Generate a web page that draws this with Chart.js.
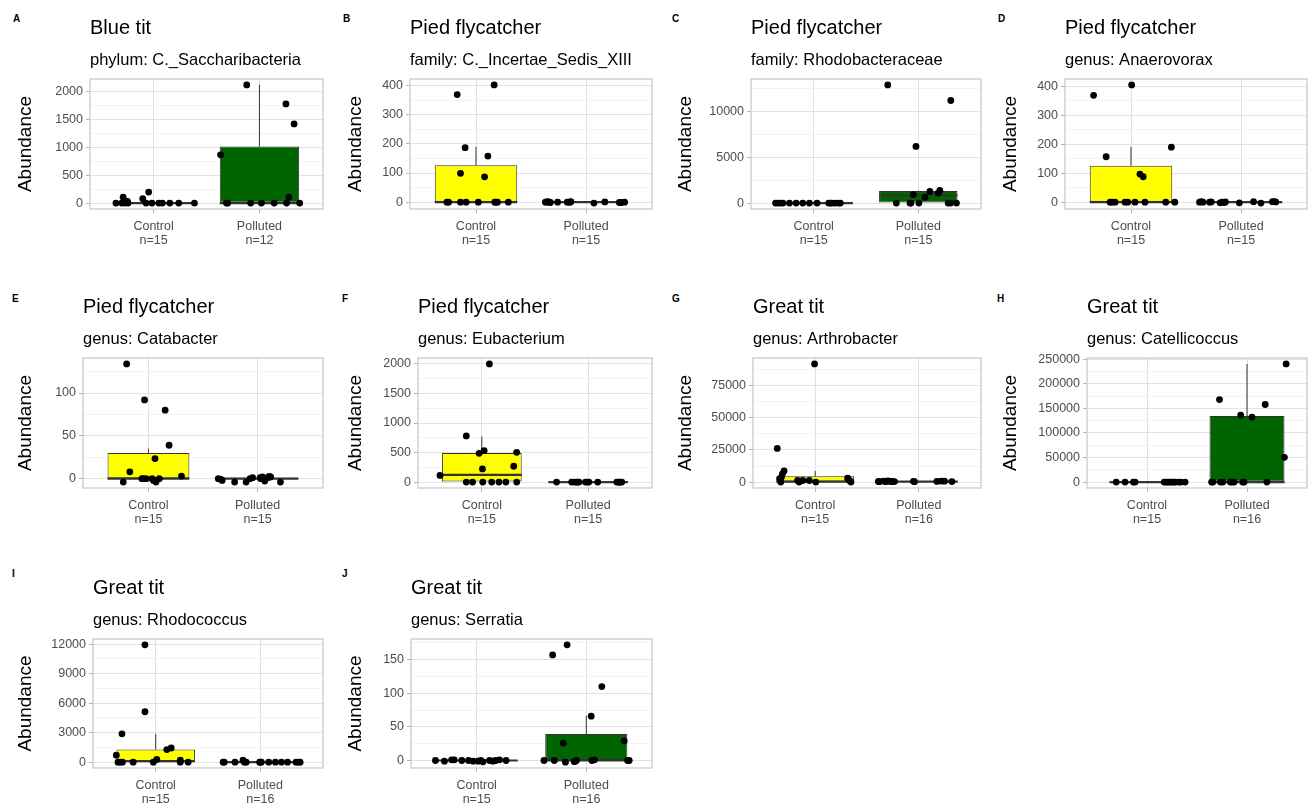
<!DOCTYPE html>
<html><head><meta charset="utf-8">
<script src="https://cdn.jsdelivr.net/npm/chart.js@4.4.1/dist/chart.umd.min.js"></script>
<style>
html,body{margin:0;padding:0;background:#fff;}
body{width:1312px;height:809px;position:relative;overflow:hidden;font-family:"Liberation Sans",Arial,sans-serif;}
canvas.cv{position:absolute;}
.tag{position:absolute;font:bold 10px "Liberation Sans",Arial,sans-serif;color:#000;}
</style></head><body>
<script>
// ---------------- DATA ----------------
const groups = ['Control', 'Polluted'];
const panelTags = ['A','B','C','D','E','F','G','H','I','J'];
const birdTitles = ['Blue tit','Pied flycatcher','Pied flycatcher','Pied flycatcher','Pied flycatcher','Pied flycatcher','Great tit','Great tit','Great tit','Great tit'];
const taxonSubtitles = ['phylum: C._Saccharibacteria','family: C._Incertae_Sedis_XIII','family: Rhodobacteraceae','genus: Anaerovorax','genus: Catabacter','genus: Eubacterium','genus: Arthrobacter','genus: Catellicoccus','genus: Rhodococcus','genus: Serratia'];
const sampleSizes = [[15,12],[15,15],[15,15],[15,15],[15,15],[15,15],[15,16],[15,16],[15,16],[15,16]];
const yMajorSteps = [500,100,5000,100,50,500,25000,50000,3000,50];

// box stats per group: [lowerWhisker, q1, median, q3, upperWhisker]
const boxA = [[0,0,0,0,0],[0,0,0,1015,2120]];
const boxB = [[0,0,0,127,190],[0,0,0,0,0]];
const boxC = [[0,0,0,0,0],[0,0,840,1309,1385]];
const boxD = [[0,0,0,126,191],[0,0,0,0,0]];
const boxE = [[0,0,0,30,35],[0,0,0,1,2]];
const boxF = [[0,0,123,492,771],[0,0,0,0,0]];
const boxG = [[0,0,300,4600,8700],[0,0,300,500,900]];
const boxH = [[0,0,0,0,0],[0,0,0,134400,240600]];
const boxI = [[0,0,100,1274,2883],[0,0,0,0,0]];
const boxJ = [[0,0,0,0,0],[0,0,0,39.5,66.7]];

// observed abundances and their horizontal jitter (in category units)
const ctrlA = [0,107,0,30,0,78,0,197,0,0,0,0,0,0,0];
const ctrlA_jit = [-0.355,-0.287,-0.269,-0.247,-0.241,-0.102,-0.071,-0.046,-0.015,0.083,0.154,0.238,0.386,-0.30,0.05];
const polA = [866,0,0,2120,0,0,0,1779,0,107,1421,0];
const polA_jit = [-0.367,-0.312,-0.30,-0.12,-0.083,0.019,0.139,0.25,0.256,0.278,0.327,0.38];

const ctrlB = [0,369,99,0,187,0,0,87,158,402,0,0,0,0,0];
const ctrlB_jit = [-0.264,-0.171,-0.141,-0.141,-0.099,-0.09,0.021,0.078,0.108,0.165,0.171,0.195,0.294,-0.25,0.18];
const polB = [0,1,0,-1,0,0,0,2,-3,1,-1,-1,0,2,0];
const polB_jit = [-0.369,-0.357,-0.339,-0.324,-0.258,-0.171,-0.153,-0.138,0.072,0.171,0.303,0.321,0.351,-0.345,-0.144];

const ctrlC = [0,0,0,0,0,0,0,0,0,0,0,0,0,0,0];
const ctrlC_jit = [-0.365,-0.34,-0.317,-0.295,-0.232,-0.168,-0.105,-0.041,0.032,0.143,0.159,0.175,0.206,0.238,0.254];
const polC = [12900,0,0,916,6180,0,650,1270,1090,1385,0,11200,0,0,0];
const polC_jit = [-0.292,-0.21,-0.079,-0.048,-0.022,0.006,0.063,0.111,0.19,0.206,0.286,0.311,0.31,0.365,-0.07];

const ctrlD = [369,157,0,0,0,0,0,0,97,88,0,405,0,190,0];
const ctrlD_jit = [-0.34,-0.226,-0.19,-0.172,-0.145,-0.054,-0.03,0.036,0.081,0.111,0.127,0.006,0.316,0.367,0.398];
const polD = [0,2,0,0,1,-2,0,-1,1,-2,2,-3,2,2,1];
const polD_jit = [-0.377,-0.361,-0.346,-0.286,-0.271,-0.19,-0.172,-0.151,-0.142,-0.015,0.114,0.181,0.286,0.301,0.316];

const ctrlE = [-4,8,134,0,92,0,0,23.5,-4,0,80,39,3,0,-2];
const ctrlE_jit = [-0.231,-0.171,-0.2,-0.06,-0.036,-0.021,0.033,0.06,0.069,0.099,0.153,0.189,0.303,-0.045,0.045];
const polE = [0,-1,-2,-4,-4,0,1.2,1.2,0,2,-2.7,1.2,2.7,2,-4];
const polE_jit = [-0.36,-0.336,-0.324,-0.21,-0.105,-0.069,-0.045,0.024,0.03,0.045,0.066,0.096,0.105,0.12,0.21];

const ctrlF = [112,782,0,0,486,223,531,2000,0,0,0,0,268,503,0];
const ctrlF_jit = [-0.393,-0.146,-0.146,-0.087,-0.025,0.006,0.022,0.071,0.009,0.093,0.161,0.226,0.3,0.328,0.328];
const polF = [0,0,0,0,0,0,0,0,0,0,0,0,0,0,0];
const polF_jit = [-0.297,-0.155,-0.127,-0.108,-0.102,-0.087,-0.025,-0.009,0.006,0.09,0.269,0.285,0.294,0.3,0.316];

const ctrlG = [26200,0,2570,3850,6420,8700,1230,0,1230,1230,0,92000,3080,1230,0];
const ctrlG_jit = [-0.366,-0.332,-0.342,-0.326,-0.316,-0.3,-0.17,-0.155,-0.12,-0.057,0.006,-0.006,0.313,0.33,0.345];
const polG = [500,300,800,400,600,900,700,300,500,400,600,300,500,800,700,400];
const polG_jit = [-0.39,-0.381,-0.342,-0.323,-0.31,-0.3,-0.284,-0.261,-0.252,-0.235,-0.052,-0.042,0.174,0.216,0.248,0.319];

const ctrlH = [0,0,0,0,0,0,0,0,0,0,0,0,0,0,0];
const ctrlH_jit = [-0.308,-0.219,-0.136,-0.119,0.172,0.189,0.205,0.222,0.238,0.255,0.272,0.288,0.321,0.338,0.381];
const polH = [0,168000,0,0,0,0,136400,0,132400,158000,0,50400,240600,0,0,0];
const polH_jit = [-0.354,-0.275,-0.265,-0.242,-0.149,-0.129,-0.063,-0.03,0.05,0.182,0.199,0.374,0.391,-0.341,-0.166,-0.043];

const ctrlI = [704,0,0,2883,0,0,11934,5129,0,268,1274,1441,201,0,0];
const ctrlI_jit = [-0.377,-0.361,-0.342,-0.323,-0.319,-0.216,-0.103,-0.103,-0.023,0.01,0.106,0.148,0.235,0.235,0.31];
const polI = [0,0,0,200,0,0,0,0,0,0,0,0,0,0,0,0];
const polI_jit = [-0.355,-0.345,-0.242,-0.165,-0.152,-0.135,-0.006,0.003,0.01,0.081,0.145,0.203,0.261,0.342,0.365,0.381];

const ctrlJ = [0,-1,1,1,0,0,-1,-1,0,-2,0,-1,0,1,0];
const ctrlJ_jit = [-0.377,-0.295,-0.229,-0.205,-0.136,-0.075,-0.033,0.012,0.036,0.057,0.117,0.148,0.172,0.208,0.268];
const polJ = [0,157,0,26,-2.4,172,-1.5,0,66,0,1,110,29,0,0,-1];
const polJ_jit = [-0.386,-0.307,-0.292,-0.21,-0.19,-0.175,-0.111,-0.09,0.045,0.051,0.075,0.142,0.346,0.377,0.392,-0.1];

// ---------------- LAYOUT ----------------
const plotRects = [ // [left, top, right, bottom] of each plot panel
  [90,79,325,209],[410,79,654,209],[751,79,983,209],[1065,79,1309,209],
  [83,358,325,488],[418,358,654,488],[753,358,983,488],[1087,358,1309,488],
  [93,639,325,768],[411,639,654,768]
];
const colX = [0,330,660,985,0,330,660,985,0,330];
const tagPos = [[13,13],[343,13],[672,13],[998,13],[12,293],[342,293],[672,293],[997,293],[12,568],[342,568]];

const FONT = '"Liberation Sans", Arial, sans-serif';
const fills = ['#FFFF00', '#006400'];

const boxes = [boxA,boxB,boxC,boxD,boxE,boxF,boxG,boxH,boxI,boxJ];
const ctrlVals = [ctrlA,ctrlB,ctrlC,ctrlD,ctrlE,ctrlF,ctrlG,ctrlH,ctrlI,ctrlJ];
const ctrlJit = [ctrlA_jit,ctrlB_jit,ctrlC_jit,ctrlD_jit,ctrlE_jit,ctrlF_jit,ctrlG_jit,ctrlH_jit,ctrlI_jit,ctrlJ_jit];
const polVals = [polA,polB,polC,polD,polE,polF,polG,polH,polI,polJ];
const polJit = [polA_jit,polB_jit,polC_jit,polD_jit,polE_jit,polF_jit,polG_jit,polH_jit,polI_jit,polJ_jit];

const borderPlugin = {
  id: 'panelBorder',
  afterDraw(chart) {
    const a = chart.chartArea, c = chart.ctx;
    c.save();
    c.strokeStyle = '#c6c6c6';
    c.lineWidth = 1.2;
    c.strokeRect(a.left, a.top, a.right - a.left, a.bottom - a.top);
    c.restore();
  }
};

function buildPanel(i) {
  const rect = plotRects[i];
  const left = colX[i] + 14;
  const top = rect[1] - 65;
  const width = rect[2] + 2 - left;
  const height = rect[3] + 40 - top;
  const yAxisW = rect[0] - left;

  const tag = document.createElement('div');
  tag.className = 'tag';
  tag.textContent = panelTags[i];
  tag.style.left = tagPos[i][0] + 'px';
  tag.style.top = tagPos[i][1] + 'px';
  document.body.appendChild(tag);

  const cv = document.createElement('canvas');
  cv.className = 'cv';
  cv.width = width; cv.height = height;
  cv.style.left = left + 'px'; cv.style.top = top + 'px';
  cv.style.width = width + 'px'; cv.style.height = height + 'px';
  document.body.appendChild(cv);

  const vals = [ctrlVals[i], polVals[i]];
  const jits = [ctrlJit[i], polJit[i]];
  const box = boxes[i];

  // y range with ggplot-like 5% expansion
  const all = vals[0].concat(vals[1], box[0], box[1]);
  const lo = Math.min(...all), hi = Math.max(...all);
  const pad = (hi - lo) * 0.05;
  const yMin = lo - pad, yMax = hi + pad;
  const major = yMajorSteps[i], minor = major / 2;
  const isMajor = v => Math.abs(v / major - Math.round(v / major)) < 1e-6;
  const yTicks = [];
  for (let v = Math.ceil(yMin / minor) * minor; v <= yMax + 1e-9; v += minor) yTicks.push({value: v});

  const datasets = [];
  // jittered points (on top)
  const pts = [];
  for (let g = 0; g < 2; g++) vals[g].forEach((v, k) => pts.push({x: g + 1 + jits[g][k], y: v}));
  datasets.push({type: 'scatter', data: pts, backgroundColor: '#000', borderWidth: 0, pointRadius: 3.4, order: 0});
  for (let g = 0; g < 2; g++) {
    const [wl, q1, med, q3, wh] = box[g];
    datasets.push({type: 'line', data: [{x: g + 1 - 0.375, y: med}, {x: g + 1 + 0.375, y: med}],
      borderColor: '#333333', borderWidth: 2.2, pointRadius: 0, order: 1});
    datasets.push({type: 'line', data: [{x: g + 1, y: q3}, {x: g + 1, y: wh}],
      borderColor: '#333333', borderWidth: 1, pointRadius: 0, order: 2});
    datasets.push({type: 'line', data: [{x: g + 1, y: wl}, {x: g + 1, y: q1}],
      borderColor: '#333333', borderWidth: 1, pointRadius: 0, order: 2});
  }
  datasets.push({type: 'bar', data: [{x: 1, y: [box[0][1], box[0][3]]}, {x: 2, y: [box[1][1], box[1][3]]}],
    backgroundColor: fills, borderColor: '#333333', borderWidth: 1, borderSkipped: false,
    categoryPercentage: 0.75, barPercentage: 1, order: 3});

  new Chart(cv, {
    type: 'scatter',
    data: {datasets},
    plugins: [borderPlugin],
    options: {
      responsive: false, animation: false, events: [], devicePixelRatio: 1,
      layout: {padding: {left: 0, right: 2, top: 0, bottom: 0}},
      plugins: {
        legend: {display: false}, tooltip: {enabled: false},
        title: {display: true, text: birdTitles[i], align: 'start', fullSize: false, color: '#000',
          font: {size: 20, weight: 'normal', family: FONT}, padding: {top: 2, bottom: 0}},
        subtitle: {display: true, text: taxonSubtitles[i], align: 'start', fullSize: false, color: '#000',
          font: {size: 16.5, weight: 'normal', family: FONT}, padding: {top: 10.2, bottom: 9.0}}
      },
      scales: {
        x: {
          type: 'linear', min: 0.4, max: 2.6, offset: false,
          afterBuildTicks: s => { s.ticks = [{value: 1}, {value: 2}]; },
          afterFit: s => { s.height = 40; },
          ticks: {autoSkip: false, maxRotation: 0, color: '#4d4d4d', padding: 7,
            font: {size: 12.5, family: FONT, lineHeight: 1.1},
            callback: (v, idx) => [groups[idx], 'n=' + sampleSizes[i][idx]]},
          grid: {color: '#e2e2e2', lineWidth: 1, offset: false, drawTicks: true, tickLength: 4, tickColor: '#b3b3b3', tickWidth: 1},
          border: {display: false}
        },
        y: {
          type: 'linear', min: yMin, max: yMax,
          afterBuildTicks: s => { s.ticks = yTicks.map(t => ({value: t.value})); },
          afterFit: s => { s.width = yAxisW; },
          ticks: {autoSkip: false, color: '#4d4d4d', padding: 3,
            font: {size: 12.5, family: FONT},
            callback: v => isMajor(v) ? String(Math.round(v)) : ''},
          grid: {
            color: c => (c.tick && isMajor(c.tick.value)) ? '#e2e2e2' : '#f0f0f0',
            lineWidth: c => (c.tick && isMajor(c.tick.value)) ? 1 : 0.8,
            drawTicks: true, tickLength: 4,
            tickColor: c => (c.tick && isMajor(c.tick.value)) ? '#b3b3b3' : 'rgba(0,0,0,0)',
            tickWidth: 1
          },
          border: {display: false},
          title: {display: true, text: 'Abundance', color: '#000', font: {size: 19, family: FONT}, padding: {top: 0, bottom: 0}}
        }
      }
    }
  });
}

for (let i = 0; i < plotRects.length; i++) buildPanel(i);
</script>
</body></html>
